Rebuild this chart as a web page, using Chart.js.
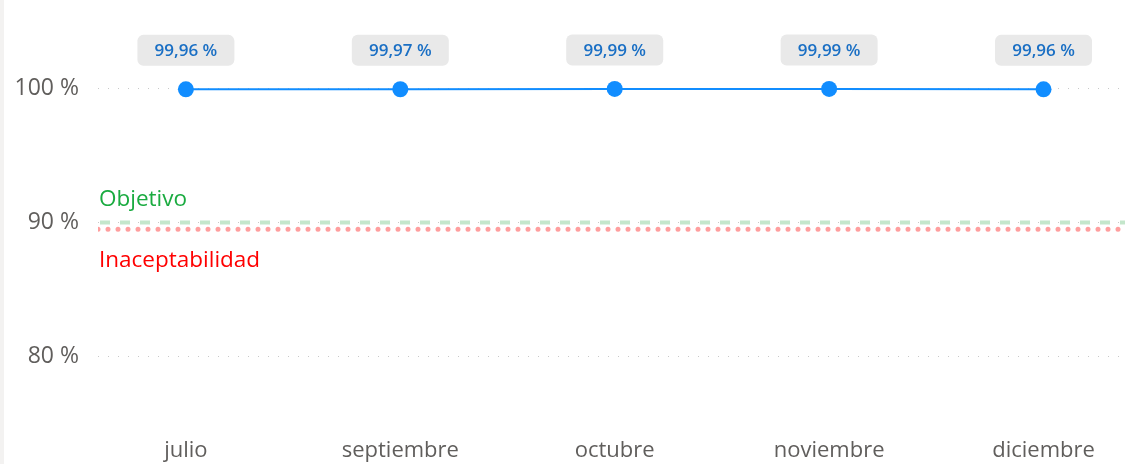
<!DOCTYPE html>
<html>
<head>
<meta charset="utf-8">
<script src="https://cdn.jsdelivr.net/npm/chart.js@4/dist/chart.umd.min.js"></script>
<style>
    html, body { margin: 0; padding: 0; background: #fff; }
    .wrap { width: 1131px; height: 464px; border-left: 4px solid #f3f2f1; }
    canvas { display: block; }
</style>
</head>
<body>
<div class="wrap"><canvas id="chart" width="1131" height="464"></canvas></div>
<script>
const months = ['julio', 'septiembre', 'octubre', 'noviembre', 'diciembre'];
const availability = [99.96, 99.97, 99.99, 99.99, 99.96];
const objective = 90;
const unacceptable = 89.5;
const yTicks = [80, 90, 100];

const xMin = -0.41;
const xMax = 4.38;

const fontFamily = '"Open Sans", "Noto Sans", sans-serif';
const axisColor = '#605E5C';

const fmt = v => v.toFixed(2).replace('.', ',') + ' %';

// data labels in rounded grey boxes + the two reference captions
const labelsPlugin = {
    id: 'labels',
    afterDatasetsDraw(chart) {
        const ctx = chart.ctx;
        const x = chart.scales.x;
        const y = chart.scales.y;
        ctx.save();

        // point value boxes
        ctx.font = '600 17px ' + fontFamily;
        ctx.textAlign = 'center';
        ctx.textBaseline = 'middle';
        availability.forEach((v, i) => {
            const px = x.getPixelForValue(i);
            const py = y.getPixelForValue(v) - 39;
            const w = 97, h = 31;
            ctx.fillStyle = '#E9E9E9';
            ctx.beginPath();
            ctx.roundRect(px - w / 2, py - h / 2, w, h, 6);
            ctx.fill();
            ctx.fillStyle = '#1A6FC4';
            ctx.fillText(fmt(v), px, py + 1);
        });

        // captions for the reference lines
        ctx.font = '22.5px ' + fontFamily;
        ctx.textAlign = 'left';
        ctx.fillStyle = '#1AAB40';
        ctx.textBaseline = 'middle';
        ctx.fillText('Objetivo', chart.chartArea.left + 1, y.getPixelForValue(objective) - 23);
        ctx.fillStyle = '#FF0000';
        ctx.fillText('Inaceptabilidad', chart.chartArea.left + 1, y.getPixelForValue(unacceptable) + 31);
        ctx.restore();
    }
};

new Chart(document.getElementById('chart'), {
    type: 'line',
    data: {
        datasets: [
            {
                label: 'Objetivo',
                data: [{ x: xMin, y: objective }, { x: xMax, y: objective }],
                borderColor: '#C4E6CB',
                borderWidth: 4,
                borderDash: [10, 10],
                borderDashOffset: -2,
                pointRadius: 0,
                order: 3
            },
            {
                label: 'Inaceptabilidad',
                data: [{ x: xMin, y: unacceptable }, { x: xMax, y: unacceptable }],
                borderColor: '#FF9E9E',
                borderWidth: 5,
                borderCapStyle: 'round',
                borderDash: [0, 10],
                pointRadius: 0,
                order: 2
            },
            {
                label: 'Disponibilidad',
                data: availability.map((v, i) => ({ x: i, y: v })),
                borderColor: '#118DFF',
                backgroundColor: '#118DFF',
                borderWidth: 2,
                pointRadius: 8,
                pointBorderWidth: 0,
                order: 1
            }
        ]
    },
    options: {
        responsive: false,
        animation: false,
        layout: { padding: { top: 22, right: 10, left: 0, bottom: 0 } },
        plugins: {
            legend: { display: false },
            tooltip: { enabled: false }
        },
        scales: {
            x: {
                type: 'linear',
                min: xMin,
                max: xMax,
                afterBuildTicks: scale => { scale.ticks = months.map((m, i) => ({ value: i })); },
                afterFit: scale => { scale.height = 41; },
                grid: { display: false },
                border: { display: false },
                ticks: {
                    callback: v => months[v],
                    color: axisColor,
                    font: { family: fontFamily, size: 22 },
                    padding: 7,
                    maxRotation: 0,
                    autoSkip: false
                }
            },
            y: {
                min: 75,
                max: 105,
                afterBuildTicks: scale => { scale.ticks = yTicks.map(v => ({ value: v })); },
                afterFit: scale => {
                    scale.width = 94;
                    scale.paddingTop = 0;
                    scale.paddingBottom = 0;
                },
                grid: {
                    color: '#C8C8C8',
                    lineWidth: 1,
                    tickLength: 0
                },
                border: { display: false, dash: [1, 9] },
                ticks: {
                    callback: v => v + ' %',
                    color: axisColor,
                    font: { family: fontFamily, size: 23 },
                    padding: 19
                }
            }
        }
    },
    plugins: [labelsPlugin]
});
</script>
</body>
</html>
